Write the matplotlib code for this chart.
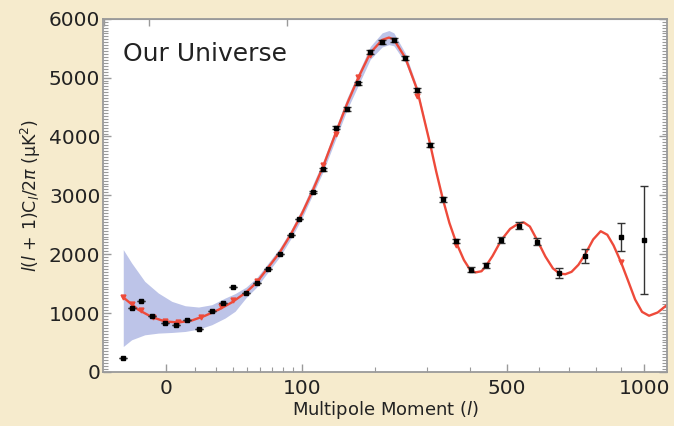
import numpy as np
import matplotlib
matplotlib.use('Agg')
import matplotlib.pyplot as plt
from matplotlib.ticker import FixedLocator, MultipleLocator, NullFormatter

# binned measurements
l_data = [2, 3, 4.5, 6.5, 9.7, 13, 17, 22, 28, 34, 40, 49, 57, 66, 77, 88, 97,
          112, 125, 141, 157, 174, 193, 213, 234, 256, 279, 307, 335, 366, 402,
          441, 485, 535, 594, 666, 758, 900, 997]
cl_data = [244, 1085, 1198, 942, 830, 800, 874, 732, 1039, 1170, 1448, 1340, 1504,
           1750, 2010, 2322, 2606, 3061, 3441, 4151, 4463, 4901, 5440, 5610, 5634,
           5327, 4792, 3855, 2930, 2226, 1738, 1811, 2244, 2487, 2215, 1681, 1964,
           2295, 2244]
cl_err = [0, 0, 0, 0, 0, 0, 0, 0, 0, 0, 0, 0, 0, 0, 0, 0, 0,
          20, 25, 25, 30, 30, 35, 35, 35, 35, 35, 35, 35, 40, 40,
          40, 50, 55, 60, 85, 120, 236, 915]

# best-fit model curve
l_model = [2, 3, 4, 6.5, 9.7, 13.8, 18.8, 24.6, 31.5, 39.4, 49, 57, 66, 77, 88,
           100, 112, 125, 141, 157, 174, 193, 213, 225, 234, 256, 279, 307, 320,
           335, 350, 366, 385, 400, 414, 430, 441, 460, 485, 510, 535, 551, 570,
           594, 620, 645, 668, 688, 710, 735, 760, 790, 819, 845, 870, 900, 930,
           960, 990, 1021, 1060, 1104]
cl_model = [1266, 1150, 1056, 932, 857, 840, 874, 954, 1056, 1181, 1350, 1520,
            1760, 2030, 2340, 2700, 3080, 3500, 4050, 4550, 5000, 5420, 5640, 5680,
            5650, 5330, 4800, 3855, 3400, 2930, 2530, 2200, 1900, 1740, 1690, 1710,
            1790, 1970, 2244, 2430, 2520, 2540, 2470, 2230, 1960, 1760, 1670, 1660,
            1700, 1820, 2000, 2250, 2390, 2330, 2150, 1870, 1550, 1230, 1020, 954,
            1010, 1141]

# binned model points
l_bin = [2, 3, 4.5, 6.8, 9.7, 13.5, 22.6, 33, 40, 57, 125, 141, 174, 193, 279, 366, 900]
cl_bin = [1272, 1153, 1044, 931, 857, 840, 937, 1112, 1227, 1538, 3515, 4037, 5003,
          5383, 4680, 2164, 1862]

# cosmic variance band
band_l = [2, 3, 5.1, 8, 11.7, 16.2, 21.6, 27.9, 35.3, 41.5, 49, 57, 66, 77, 88,
          100, 125, 157, 193, 213, 225, 234, 256, 279, 307]
band_hi = [2078, 1852, 1538, 1340, 1198, 1124, 1102, 1141, 1255, 1330, 1440, 1600,
           1835, 2105, 2415, 2780, 3590, 4650, 5530, 5760, 5800, 5760, 5410, 4850, 3875]
band_lo = [431, 545, 630, 659, 670, 687, 727, 801, 915, 1030, 1260, 1440,
           1685, 1955, 2265, 2620, 3410, 4450, 5310, 5520, 5560, 5540, 5250, 4750, 3835]

x_major = [10, 100, 500, 1000]
x_major_labels = ['0', '100', '500', '1000']
x_minor = [20, 30, 40, 50, 60, 70, 80, 90, 200, 300, 400, 600, 700, 800, 900]
top_ticks = [2, 90, 360]

bg = '#f6ebcd'
grey = '#9a9a9a'

fwd = lambda x: np.power(np.clip(x, 1e-9, None), 0.4)
inv = lambda u: np.power(np.clip(u, 0, None), 2.5)

fig = plt.figure(figsize=(6.74, 4.26), dpi=100, facecolor=bg)
ax = fig.add_axes([0.153, 0.127, 0.837, 0.829])
ax.set_facecolor('white')
ax.set_xscale('function', functions=(fwd, inv))

ax.fill_between(band_l, band_lo, band_hi, color='#bdc4e8', lw=0, zorder=1)
ax.plot(l_model, cl_model, color='#ee4a3a', lw=1.7, zorder=2)
ax.plot(l_bin, cl_bin, 'v', color='#ee4a3a', ms=3.5, zorder=3)
ax.errorbar(l_data, cl_data, yerr=cl_err, fmt='s', color='black', ms=3.5,
            ecolor='#333333', elinewidth=1, capsize=3, capthick=1, zorder=4)

ax.set_xlim(0.5, 1104)
ax.set_ylim(0, 6000)

ax.xaxis.set_major_locator(FixedLocator(x_major))
ax.set_xticklabels(x_major_labels)
ax.xaxis.set_minor_locator(FixedLocator(x_minor))
ax.xaxis.set_minor_formatter(NullFormatter())
ax.yaxis.set_major_locator(MultipleLocator(1000))
ax.yaxis.set_minor_locator(MultipleLocator(50))

ax.tick_params(which='both', direction='in', color=grey, labelsize=14.5,
               labelcolor='#222222', right=True)
ax.tick_params(which='major', length=6, width=1)
ax.tick_params(which='minor', length=3.5, width=0.8)
ax.tick_params(axis='x', pad=5)
ax.tick_params(axis='y', pad=2)

sec = ax.secondary_xaxis('top')
sec.set_xticks(top_ticks)
sec.set_xticklabels([])
sec.tick_params(direction='in', color=grey, length=5, width=1)
sec.spines['top'].set_color(grey)

for s in ax.spines.values():
    s.set_color(grey)
    s.set_linewidth(1.3)

ax.text(0.035, 0.9, 'Our Universe', transform=ax.transAxes, fontsize=18,
        color='#222222', va='center', ha='left')

ax.set_xlabel(r'Multipole Moment ($\mathit{l}$)', fontsize=13, color='#222222',
              labelpad=1)
ax.set_ylabel(r'$\mathit{l}$($\mathit{l}$ + 1)C$_\mathit{l}$/2$\pi$ (µK$^2$)',
              fontsize=12.5, color='#222222', labelpad=4)

fig.savefig('out.png', dpi=100, facecolor=bg)
